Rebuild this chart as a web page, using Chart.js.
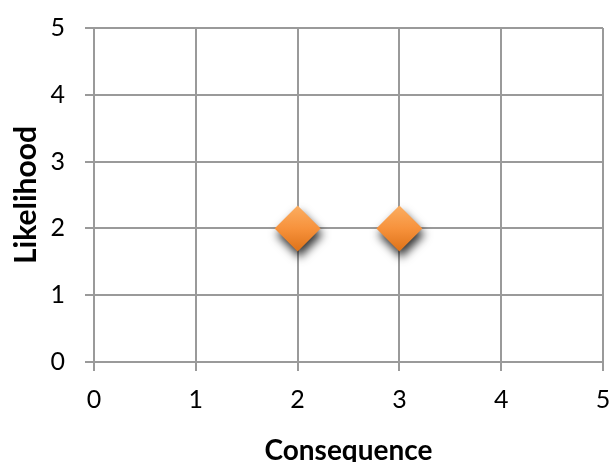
<!DOCTYPE html>
<html lang="en">
<head>
    <meta charset="UTF-8">
    <title>Risk matrix</title>
    <style>
        html, body { margin: 0; padding: 0; background: #ffffff; }
        #wrap { width: 611px; height: 462px; }
    </style>
    <script src="https://cdn.jsdelivr.net/npm/chart.js"></script>
</head>
<body>
<div id="wrap"><canvas id="riskChart" width="611" height="462"></canvas></div>
<script>
    // data
    const consequence = [2, 3];
    const likelihood = [2, 2];
    const axisTicks = [0, 1, 2, 3, 4, 5];

    const points = consequence.map((c, i) => ({ x: c, y: likelihood[i] }));

    // diamond fill: lighter on top, darker underneath
    function diamondFill(ctx) {
        const el = ctx.element;
        if (!el || el.x === undefined) return '#F79646';
        const g = ctx.chart.ctx.createLinearGradient(el.x, el.y - 23, el.x, el.y + 23);
        g.addColorStop(0, '#FBAE62');
        g.addColorStop(0.5, '#F7923C');
        g.addColorStop(1, '#DE7218');
        return g;
    }

    // soft drop shadow under the markers
    const shadowPlugin = {
        id: 'shadow',
        beforeDatasetsDraw(chart) {
            const c = chart.ctx;
            c.save();
            c.shadowColor = 'rgba(0,0,0,0.8)';
            c.shadowBlur = 10;
            c.shadowOffsetX = 2;
            c.shadowOffsetY = 6;
        },
        afterDatasetsDraw(chart) {
            chart.ctx.restore();
        }
    };

    const gridColor = '#9a9a9a';
    const tickFont = { family: 'Lato', size: 25 };
    const titleFont = { family: 'Lato', size: 28, weight: 'bold' };

    new Chart(document.getElementById('riskChart'), {
        type: 'scatter',
        data: {
            datasets: [{
                data: points,
                pointStyle: 'rectRot',
                pointRadius: 23,
                pointHoverRadius: 23,
                backgroundColor: diamondFill,
                borderWidth: 0
            }]
        },
        options: {
            responsive: false,
            animation: false,
            events: [],
            layout: { autoPadding: false, padding: { top: 28, right: 8, left: 0, bottom: 0 } },
            plugins: { legend: { display: false }, tooltip: { enabled: false } },
            scales: {
                x: {
                    type: 'linear',
                    min: axisTicks[0],
                    max: axisTicks[axisTicks.length - 1],
                    afterBuildTicks: s => { s.ticks = axisTicks.map(v => ({ value: v })); },
                    afterFit: s => { s.height = 100; s.paddingLeft = 0; s.paddingRight = 0; },
                    grid: { color: gridColor, lineWidth: 2, tickLength: 9 },
                    border: { color: gridColor, width: 2 },
                    ticks: { color: '#000', font: tickFont, padding: 14, maxRotation: 0 },
                    title: {
                        display: true, text: 'Consequence', color: '#000', font: titleFont,
                        padding: { top: 0, bottom: -6 }
                    }
                },
                y: {
                    type: 'linear',
                    min: axisTicks[0],
                    max: axisTicks[axisTicks.length - 1],
                    afterBuildTicks: s => { s.ticks = axisTicks.map(v => ({ value: v })); },
                    afterFit: s => { s.width = 94; s.paddingTop = 0; s.paddingBottom = 0; },
                    grid: { color: gridColor, lineWidth: 2, tickLength: 9 },
                    border: { color: gridColor, width: 2 },
                    ticks: { color: '#000', font: tickFont, padding: 20 },
                    title: {
                        display: true, text: 'Likelihood', color: '#000',
                        font: { family: 'Lato', size: 30, weight: 'bold' },
                        padding: { top: 8, bottom: 0 }
                    }
                }
            }
        },
        plugins: [shadowPlugin]
    });
</script>
</body>
</html>
